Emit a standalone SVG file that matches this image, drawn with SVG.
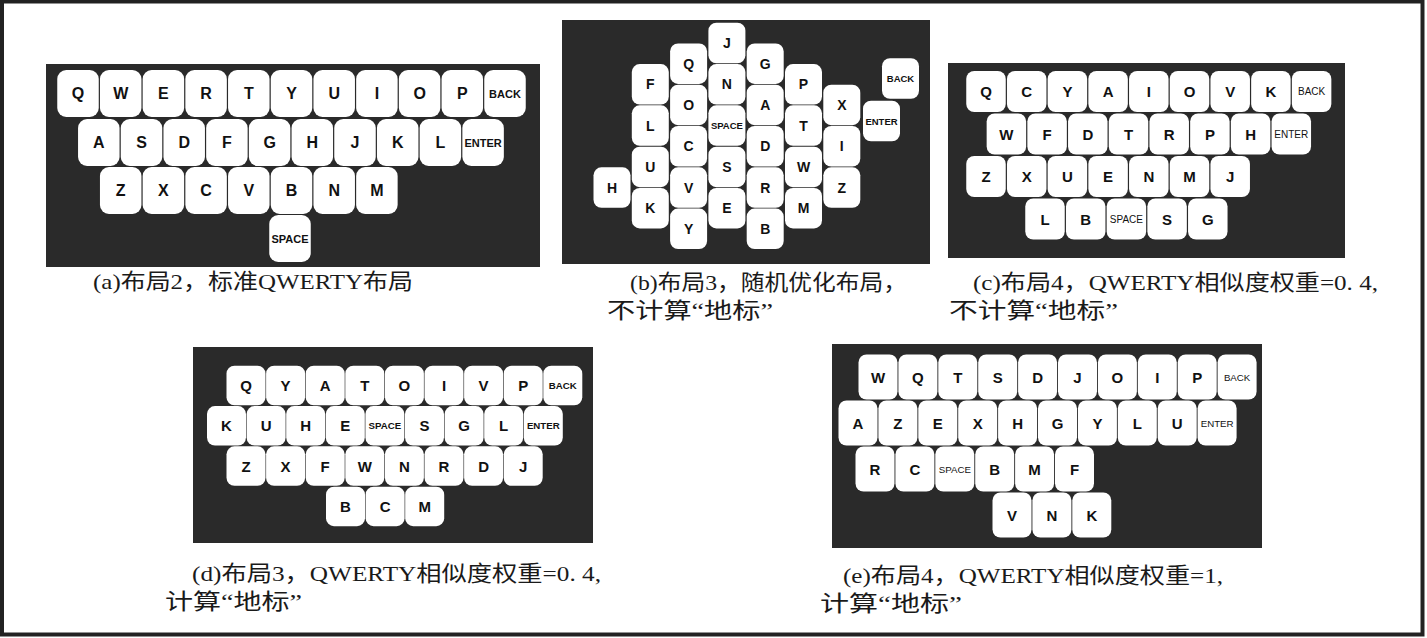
<svg xmlns="http://www.w3.org/2000/svg" xmlns:xlink="http://www.w3.org/1999/xlink" width="1427" height="638" viewBox="0 0 1427 638">
<style>
.panel{fill:#2a2a2a}
.k{fill:#ffffff}
.l{font-family:"Liberation Sans",Arial,sans-serif;font-weight:bold;text-anchor:middle;dominant-baseline:central;fill:#111}
.pa .l{font-size:16px}
.pa .s{font-size:11px}
.pb .l{font-size:14px}
.pb .s{font-size:9.5px}
.pc .l,.pd .l,.pe .l{font-size:15px}
.pc .s{font-size:10px;font-weight:normal}
.pd .s{font-size:9.7px}
.pe .s{font-size:9.7px;font-weight:normal}
.cap{font-family:"Liberation Serif","Noto Sans CJK SC",serif;font-size:22px;fill:#1a1a1a}
</style>
<defs>
<rect id="ka" class="k" x="-20.75" y="-23.5" width="41.5" height="47" rx="9"/>
<rect id="kb" class="k" x="-18.5" y="-20.25" width="37" height="40.5" rx="8"/>
<rect id="kc" class="k" x="-19.75" y="-20.5" width="39.5" height="41" rx="8"/>
<rect id="kd" class="k" x="-19.5" y="-19.75" width="39" height="39.5" rx="8"/>
<rect id="ke" class="k" x="-19.5" y="-22.5" width="39" height="45" rx="8"/>
</defs>
<rect x="0" y="0" width="1427" height="638" fill="#ffffff"/>
<rect x="2" y="1.5" width="1420.5" height="633" fill="none" stroke="#222" stroke-width="4"/>

<g id="panel-a" class="pa">
<rect class="panel" x="46" y="64" width="494" height="203"/>
<g id="a-Q" transform="translate(78 93.5)"><use href="#ka"/><text class="l">Q</text></g>
<g id="a-W" transform="translate(120.7 93.5)"><use href="#ka"/><text class="l">W</text></g>
<g id="a-E" transform="translate(163.4 93.5)"><use href="#ka"/><text class="l">E</text></g>
<g id="a-R" transform="translate(206.1 93.5)"><use href="#ka"/><text class="l">R</text></g>
<g id="a-T" transform="translate(248.8 93.5)"><use href="#ka"/><text class="l">T</text></g>
<g id="a-Y" transform="translate(291.5 93.5)"><use href="#ka"/><text class="l">Y</text></g>
<g id="a-U" transform="translate(334.2 93.5)"><use href="#ka"/><text class="l">U</text></g>
<g id="a-I" transform="translate(376.9 93.5)"><use href="#ka"/><text class="l">I</text></g>
<g id="a-O" transform="translate(419.6 93.5)"><use href="#ka"/><text class="l">O</text></g>
<g id="a-P" transform="translate(462.3 93.5)"><use href="#ka"/><text class="l">P</text></g>
<g id="a-BACK" transform="translate(505 93.5)"><use href="#ka"/><text class="l s">BACK</text></g>
<g id="a-A" transform="translate(98.8 142.5)"><use href="#ka"/><text class="l">A</text></g>
<g id="a-S" transform="translate(141.5 142.5)"><use href="#ka"/><text class="l">S</text></g>
<g id="a-D" transform="translate(184.2 142.5)"><use href="#ka"/><text class="l">D</text></g>
<g id="a-F" transform="translate(226.9 142.5)"><use href="#ka"/><text class="l">F</text></g>
<g id="a-G" transform="translate(269.6 142.5)"><use href="#ka"/><text class="l">G</text></g>
<g id="a-H" transform="translate(312.3 142.5)"><use href="#ka"/><text class="l">H</text></g>
<g id="a-J" transform="translate(355 142.5)"><use href="#ka"/><text class="l">J</text></g>
<g id="a-K" transform="translate(397.7 142.5)"><use href="#ka"/><text class="l">K</text></g>
<g id="a-L" transform="translate(440.4 142.5)"><use href="#ka"/><text class="l">L</text></g>
<g id="a-ENTER" transform="translate(483.1 142.5)"><use href="#ka"/><text class="l s">ENTER</text></g>
<g id="a-Z" transform="translate(120.7 190.5)"><use href="#ka"/><text class="l">Z</text></g>
<g id="a-X" transform="translate(163.4 190.5)"><use href="#ka"/><text class="l">X</text></g>
<g id="a-C" transform="translate(206.1 190.5)"><use href="#ka"/><text class="l">C</text></g>
<g id="a-V" transform="translate(248.8 190.5)"><use href="#ka"/><text class="l">V</text></g>
<g id="a-B" transform="translate(291.5 190.5)"><use href="#ka"/><text class="l">B</text></g>
<g id="a-N" transform="translate(334.2 190.5)"><use href="#ka"/><text class="l">N</text></g>
<g id="a-M" transform="translate(376.9 190.5)"><use href="#ka"/><text class="l">M</text></g>
<g id="a-SPACE" transform="translate(290 238.5)"><use href="#ka"/><text class="l s">SPACE</text></g>
<text class="cap" x="93" y="289" textLength="320" lengthAdjust="spacingAndGlyphs">(a)布局2，标准QWERTY布局</text>
</g>

<g id="panel-b" class="pb">
<rect class="panel" x="562" y="20" width="368" height="244"/>
<g id="b-H" transform="translate(612 187.55)"><use href="#kb"/><text class="l">H</text></g>
<g id="b-F" transform="translate(650.3 84.3)"><use href="#kb"/><text class="l">F</text></g>
<g id="b-L" transform="translate(650.3 125.6)"><use href="#kb"/><text class="l">L</text></g>
<g id="b-U" transform="translate(650.3 166.9)"><use href="#kb"/><text class="l">U</text></g>
<g id="b-K" transform="translate(650.3 208.2)"><use href="#kb"/><text class="l">K</text></g>
<g id="b-Q" transform="translate(688.6 63.65)"><use href="#kb"/><text class="l">Q</text></g>
<g id="b-O" transform="translate(688.6 104.95)"><use href="#kb"/><text class="l">O</text></g>
<g id="b-C" transform="translate(688.6 146.25)"><use href="#kb"/><text class="l">C</text></g>
<g id="b-V" transform="translate(688.6 187.55)"><use href="#kb"/><text class="l">V</text></g>
<g id="b-Y" transform="translate(688.6 228.85)"><use href="#kb"/><text class="l">Y</text></g>
<g id="b-J" transform="translate(726.9 43)"><use href="#kb"/><text class="l">J</text></g>
<g id="b-N" transform="translate(726.9 84.3)"><use href="#kb"/><text class="l">N</text></g>
<g id="b-SPACE" transform="translate(726.9 125.6)"><use href="#kb"/><text class="l s">SPACE</text></g>
<g id="b-S" transform="translate(726.9 166.9)"><use href="#kb"/><text class="l">S</text></g>
<g id="b-E" transform="translate(726.9 208.2)"><use href="#kb"/><text class="l">E</text></g>
<g id="b-G" transform="translate(765.2 63.65)"><use href="#kb"/><text class="l">G</text></g>
<g id="b-A" transform="translate(765.2 104.95)"><use href="#kb"/><text class="l">A</text></g>
<g id="b-D" transform="translate(765.2 146.25)"><use href="#kb"/><text class="l">D</text></g>
<g id="b-R" transform="translate(765.2 187.55)"><use href="#kb"/><text class="l">R</text></g>
<g id="b-B" transform="translate(765.2 228.85)"><use href="#kb"/><text class="l">B</text></g>
<g id="b-P" transform="translate(803.5 84.3)"><use href="#kb"/><text class="l">P</text></g>
<g id="b-T" transform="translate(803.5 125.6)"><use href="#kb"/><text class="l">T</text></g>
<g id="b-W" transform="translate(803.5 166.9)"><use href="#kb"/><text class="l">W</text></g>
<g id="b-M" transform="translate(803.5 208.2)"><use href="#kb"/><text class="l">M</text></g>
<g id="b-X" transform="translate(841.8 104.95)"><use href="#kb"/><text class="l">X</text></g>
<g id="b-I" transform="translate(841.8 146.25)"><use href="#kb"/><text class="l">I</text></g>
<g id="b-Z" transform="translate(841.8 187.55)"><use href="#kb"/><text class="l">Z</text></g>
<g id="b-BACK" transform="translate(900.5 78.5)"><use href="#kb"/><text class="l s">BACK</text></g>
<g id="b-ENTER" transform="translate(881.5 121)"><use href="#kb"/><text class="l s">ENTER</text></g>
<text class="cap" x="630" y="290" textLength="277" lengthAdjust="spacingAndGlyphs">(b)布局3，随机优化布局，</text>
<text class="cap" x="607" y="318" textLength="166" lengthAdjust="spacingAndGlyphs">不计算“地标”</text>
</g>

<g id="panel-c" class="pc">
<rect class="panel" x="948" y="63" width="397" height="195"/>
<g id="c-Q" transform="translate(986 91.5)"><use href="#kc"/><text class="l">Q</text></g>
<g id="c-C" transform="translate(1026.7 91.5)"><use href="#kc"/><text class="l">C</text></g>
<g id="c-Y" transform="translate(1067.4 91.5)"><use href="#kc"/><text class="l">Y</text></g>
<g id="c-A" transform="translate(1108.1 91.5)"><use href="#kc"/><text class="l">A</text></g>
<g id="c-I" transform="translate(1148.8 91.5)"><use href="#kc"/><text class="l">I</text></g>
<g id="c-O" transform="translate(1189.5 91.5)"><use href="#kc"/><text class="l">O</text></g>
<g id="c-V" transform="translate(1230.2 91.5)"><use href="#kc"/><text class="l">V</text></g>
<g id="c-K" transform="translate(1270.9 91.5)"><use href="#kc"/><text class="l">K</text></g>
<g id="c-BACK" transform="translate(1311.6 91.5)"><use href="#kc"/><text class="l s">BACK</text></g>
<g id="c-W" transform="translate(1006.4 134)"><use href="#kc"/><text class="l">W</text></g>
<g id="c-F" transform="translate(1047.1 134)"><use href="#kc"/><text class="l">F</text></g>
<g id="c-D" transform="translate(1087.8 134)"><use href="#kc"/><text class="l">D</text></g>
<g id="c-T" transform="translate(1128.5 134)"><use href="#kc"/><text class="l">T</text></g>
<g id="c-R" transform="translate(1169.2 134)"><use href="#kc"/><text class="l">R</text></g>
<g id="c-P" transform="translate(1209.9 134)"><use href="#kc"/><text class="l">P</text></g>
<g id="c-H" transform="translate(1250.6 134)"><use href="#kc"/><text class="l">H</text></g>
<g id="c-ENTER" transform="translate(1291.3 134)"><use href="#kc"/><text class="l s">ENTER</text></g>
<g id="c-Z" transform="translate(986 176.5)"><use href="#kc"/><text class="l">Z</text></g>
<g id="c-X" transform="translate(1026.7 176.5)"><use href="#kc"/><text class="l">X</text></g>
<g id="c-U" transform="translate(1067.4 176.5)"><use href="#kc"/><text class="l">U</text></g>
<g id="c-E" transform="translate(1108.1 176.5)"><use href="#kc"/><text class="l">E</text></g>
<g id="c-N" transform="translate(1148.8 176.5)"><use href="#kc"/><text class="l">N</text></g>
<g id="c-M" transform="translate(1189.5 176.5)"><use href="#kc"/><text class="l">M</text></g>
<g id="c-J" transform="translate(1230.2 176.5)"><use href="#kc"/><text class="l">J</text></g>
<g id="c-L" transform="translate(1045 219)"><use href="#kc"/><text class="l">L</text></g>
<g id="c-B" transform="translate(1085.7 219)"><use href="#kc"/><text class="l">B</text></g>
<g id="c-SPACE" transform="translate(1126.4 219)"><use href="#kc"/><text class="l s">SPACE</text></g>
<g id="c-S" transform="translate(1167.1 219)"><use href="#kc"/><text class="l">S</text></g>
<g id="c-G" transform="translate(1207.8 219)"><use href="#kc"/><text class="l">G</text></g>
<text class="cap" x="973" y="290" textLength="405" lengthAdjust="spacingAndGlyphs">(c)布局4，QWERTY相似度权重=0. 4,</text>
<text class="cap" x="949" y="318" textLength="169" lengthAdjust="spacingAndGlyphs">不计算“地标”</text>
</g>

<g id="panel-d" class="pd">
<rect class="panel" x="193" y="347" width="400" height="196"/>
<g id="d-Q" transform="translate(246 385.5)"><use href="#kd"/><text class="l">Q</text></g>
<g id="d-Y" transform="translate(285.6 385.5)"><use href="#kd"/><text class="l">Y</text></g>
<g id="d-A" transform="translate(325.2 385.5)"><use href="#kd"/><text class="l">A</text></g>
<g id="d-T" transform="translate(364.8 385.5)"><use href="#kd"/><text class="l">T</text></g>
<g id="d-O" transform="translate(404.4 385.5)"><use href="#kd"/><text class="l">O</text></g>
<g id="d-I" transform="translate(444 385.5)"><use href="#kd"/><text class="l">I</text></g>
<g id="d-V" transform="translate(483.6 385.5)"><use href="#kd"/><text class="l">V</text></g>
<g id="d-P" transform="translate(523.2 385.5)"><use href="#kd"/><text class="l">P</text></g>
<g id="d-BACK" transform="translate(562.8 385.5)"><use href="#kd"/><text class="l s" font-weight="normal">BACK</text></g>
<g id="d-K" transform="translate(226.5 425.8)"><use href="#kd"/><text class="l">K</text></g>
<g id="d-U" transform="translate(266.1 425.8)"><use href="#kd"/><text class="l">U</text></g>
<g id="d-H" transform="translate(305.7 425.8)"><use href="#kd"/><text class="l">H</text></g>
<g id="d-E" transform="translate(345.3 425.8)"><use href="#kd"/><text class="l">E</text></g>
<g id="d-SPACE" transform="translate(384.9 425.8)"><use href="#kd"/><text class="l s">SPACE</text></g>
<g id="d-S" transform="translate(424.5 425.8)"><use href="#kd"/><text class="l">S</text></g>
<g id="d-G" transform="translate(464.1 425.8)"><use href="#kd"/><text class="l">G</text></g>
<g id="d-L" transform="translate(503.7 425.8)"><use href="#kd"/><text class="l">L</text></g>
<g id="d-ENTER" transform="translate(543.3 425.8)"><use href="#kd"/><text class="l s">ENTER</text></g>
<g id="d-Z" transform="translate(246 466.1)"><use href="#kd"/><text class="l">Z</text></g>
<g id="d-X" transform="translate(285.6 466.1)"><use href="#kd"/><text class="l">X</text></g>
<g id="d-F" transform="translate(325.2 466.1)"><use href="#kd"/><text class="l">F</text></g>
<g id="d-W" transform="translate(364.8 466.1)"><use href="#kd"/><text class="l">W</text></g>
<g id="d-N" transform="translate(404.4 466.1)"><use href="#kd"/><text class="l">N</text></g>
<g id="d-R" transform="translate(444 466.1)"><use href="#kd"/><text class="l">R</text></g>
<g id="d-D" transform="translate(483.6 466.1)"><use href="#kd"/><text class="l">D</text></g>
<g id="d-J" transform="translate(523.2 466.1)"><use href="#kd"/><text class="l">J</text></g>
<g id="d-B" transform="translate(345.5 506.4)"><use href="#kd"/><text class="l">B</text></g>
<g id="d-C" transform="translate(385.1 506.4)"><use href="#kd"/><text class="l">C</text></g>
<g id="d-M" transform="translate(424.7 506.4)"><use href="#kd"/><text class="l">M</text></g>
<text class="cap" x="192" y="581" textLength="409" lengthAdjust="spacingAndGlyphs">(d)布局3，QWERTY相似度权重=0. 4,</text>
<text class="cap" x="165" y="609" textLength="137" lengthAdjust="spacingAndGlyphs">计算“地标”</text>
</g>

<g id="panel-e" class="pe">
<rect class="panel" x="832" y="344" width="430" height="204"/>
<g id="e-W" transform="translate(878 377)"><use href="#ke"/><text class="l">W</text></g>
<g id="e-Q" transform="translate(917.9 377)"><use href="#ke"/><text class="l">Q</text></g>
<g id="e-T" transform="translate(957.8 377)"><use href="#ke"/><text class="l">T</text></g>
<g id="e-S" transform="translate(997.7 377)"><use href="#ke"/><text class="l">S</text></g>
<g id="e-D" transform="translate(1037.6 377)"><use href="#ke"/><text class="l">D</text></g>
<g id="e-J" transform="translate(1077.5 377)"><use href="#ke"/><text class="l">J</text></g>
<g id="e-O" transform="translate(1117.4 377)"><use href="#ke"/><text class="l">O</text></g>
<g id="e-I" transform="translate(1157.3 377)"><use href="#ke"/><text class="l">I</text></g>
<g id="e-P" transform="translate(1197.2 377)"><use href="#ke"/><text class="l">P</text></g>
<g id="e-BACK" transform="translate(1237.1 377)"><use href="#ke"/><text class="l s">BACK</text></g>
<g id="e-A" transform="translate(858 423)"><use href="#ke"/><text class="l">A</text></g>
<g id="e-Z" transform="translate(897.9 423)"><use href="#ke"/><text class="l">Z</text></g>
<g id="e-E" transform="translate(937.8 423)"><use href="#ke"/><text class="l">E</text></g>
<g id="e-X" transform="translate(977.7 423)"><use href="#ke"/><text class="l">X</text></g>
<g id="e-H" transform="translate(1017.6 423)"><use href="#ke"/><text class="l">H</text></g>
<g id="e-G" transform="translate(1057.5 423)"><use href="#ke"/><text class="l">G</text></g>
<g id="e-Y" transform="translate(1097.4 423)"><use href="#ke"/><text class="l">Y</text></g>
<g id="e-L" transform="translate(1137.3 423)"><use href="#ke"/><text class="l">L</text></g>
<g id="e-U" transform="translate(1177.2 423)"><use href="#ke"/><text class="l">U</text></g>
<g id="e-ENTER" transform="translate(1217.1 423)"><use href="#ke"/><text class="l s">ENTER</text></g>
<g id="e-R" transform="translate(875 469)"><use href="#ke"/><text class="l">R</text></g>
<g id="e-C" transform="translate(914.9 469)"><use href="#ke"/><text class="l">C</text></g>
<g id="e-SPACE" transform="translate(954.8 469)"><use href="#ke"/><text class="l s">SPACE</text></g>
<g id="e-B" transform="translate(994.7 469)"><use href="#ke"/><text class="l">B</text></g>
<g id="e-M" transform="translate(1034.6 469)"><use href="#ke"/><text class="l">M</text></g>
<g id="e-F" transform="translate(1074.5 469)"><use href="#ke"/><text class="l">F</text></g>
<g id="e-V" transform="translate(1012 515)"><use href="#ke"/><text class="l">V</text></g>
<g id="e-N" transform="translate(1051.9 515)"><use href="#ke"/><text class="l">N</text></g>
<g id="e-K" transform="translate(1091.8 515)"><use href="#ke"/><text class="l">K</text></g>
<text class="cap" x="843" y="583" textLength="380" lengthAdjust="spacingAndGlyphs">(e)布局4，QWERTY相似度权重=1,</text>
<text class="cap" x="820" y="611" textLength="142" lengthAdjust="spacingAndGlyphs">计算“地标”</text>
</g>
</svg>
